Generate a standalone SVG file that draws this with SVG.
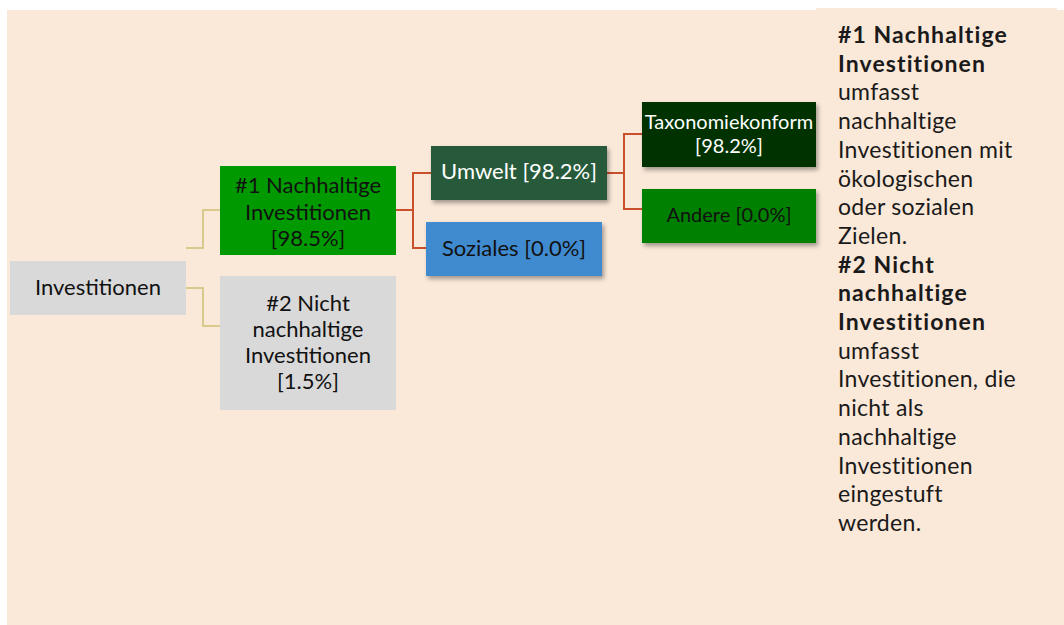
<svg xmlns="http://www.w3.org/2000/svg" width="1064" height="625" viewBox="0 0 1064 625">
  <defs>
    <filter id="sh" x="-10%" y="-10%" width="130%" height="140%">
      <feDropShadow dx="2" dy="3" stdDeviation="2" flood-color="#000" flood-opacity="0.35"/>
    </filter>
    <style>
      .t { font-family: Lato, "Liberation Sans", sans-serif; text-anchor: middle; font-size: 22px; fill: #111; }
      .s { font-size: 20px; }
      .w { fill: #ffffff; }
      .d { font-family: Lato, "Liberation Sans", sans-serif; font-size: 23px; fill: #1a1a1a; letter-spacing: 0.3px; }
      .b { font-weight: bold; letter-spacing: 1.1px; }
      .tan { fill: none; stroke: #D9C98C; stroke-width: 2; }
      .red { fill: none; stroke: #C9502B; stroke-width: 2; }
    </style>
  </defs>
  <rect x="0" y="0" width="1064" height="625" fill="#ffffff"/>
  <rect x="7" y="10" width="1057" height="615" fill="#FAE8D8"/>
  <rect x="816" y="8" width="241" height="4" fill="#FAE8D8"/>

  <g id="connectors">
    <polyline class="tan" points="186,248 203,248 203,210 220,210"/>
    <polyline class="tan" points="186,288 203,288 203,326 220,326"/>
    <polyline class="red" points="396,210 413,210"/>
    <polyline class="red" points="431,173 413,173 413,248 426,248"/>
    <polyline class="red" points="607,173 624,173"/>
    <polyline class="red" points="642,134 624,134 624,209 642,209"/>
  </g>

  <g id="n-investitionen">
    <rect x="10" y="261" width="176" height="54" fill="#D9D9D9"/>
    <text class="t" x="98" y="295">Investitionen</text>
  </g>
  <g id="n-nachhaltig">
    <rect x="220" y="166" width="176" height="89" fill="#009A00"/>
    <text class="t" x="308" y="193">#1 Nachhaltige</text>
    <text class="t" x="308" y="220">Investitionen</text>
    <text class="t" x="308" y="246">[98.5%]</text>
  </g>
  <g id="n-nicht">
    <rect x="220" y="276" width="176" height="134" fill="#D9D9D9"/>
    <text class="t" x="308" y="311">#2 Nicht</text>
    <text class="t" x="308" y="337">nachhaltige</text>
    <text class="t" x="308" y="363">Investitionen</text>
    <text class="t" x="308" y="389">[1.5%]</text>
  </g>
  <g id="n-umwelt">
    <rect x="431" y="146" width="176" height="54" fill="#255A3B" filter="url(#sh)"/>
    <text class="t w" x="519" y="179">Umwelt [98.2%]</text>
  </g>
  <g id="n-soziales">
    <rect x="426" y="222" width="176" height="54" fill="#3F8BD0" filter="url(#sh)"/>
    <text class="t" x="514" y="256">Soziales [0.0%]</text>
  </g>
  <g id="n-taxonomie">
    <rect x="642" y="102" width="174" height="65" fill="#033300" filter="url(#sh)"/>
    <text class="t s w" x="729" y="129">Taxonomiekonform</text>
    <text class="t s w" x="729" y="153">[98.2%]</text>
  </g>
  <g id="n-andere">
    <rect x="642" y="189" width="174" height="54" fill="#008000" filter="url(#sh)"/>
    <text class="t s" x="729" y="222">Andere [0.0%]</text>
  </g>

  <g id="description">
    <text class="d b" x="838" y="43">#1 Nachhaltige</text>
    <text class="d b" x="838" y="71.7">Investitionen</text>
    <text class="d" x="838" y="100.4">umfasst</text>
    <text class="d" x="838" y="129.1">nachhaltige</text>
    <text class="d" x="838" y="157.8">Investitionen mit</text>
    <text class="d" x="838" y="186.5">ökologischen</text>
    <text class="d" x="838" y="215.2">oder sozialen</text>
    <text class="d" x="838" y="243.9">Zielen.</text>
    <text class="d b" x="838" y="272.6">#2 Nicht</text>
    <text class="d b" x="838" y="301.3">nachhaltige</text>
    <text class="d b" x="838" y="330">Investitionen</text>
    <text class="d" x="838" y="358.7">umfasst</text>
    <text class="d" x="838" y="387.4">Investitionen, die</text>
    <text class="d" x="838" y="416.1">nicht als</text>
    <text class="d" x="838" y="444.8">nachhaltige</text>
    <text class="d" x="838" y="473.5">Investitionen</text>
    <text class="d" x="838" y="502.2">eingestuft</text>
    <text class="d" x="838" y="530.9">werden.</text>
  </g>
</svg>
